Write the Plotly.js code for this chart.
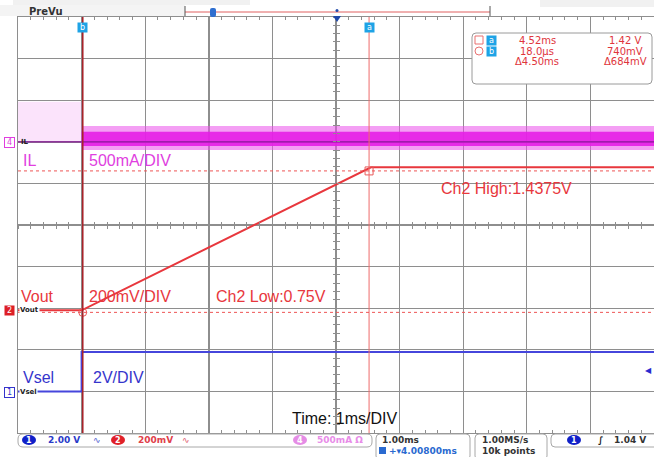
<!DOCTYPE html>
<html><head><meta charset="utf-8">
<script src="https://cdn.plot.ly/plotly-3.0.1.min.js"></script>
<style>html,body{margin:0;padding:0;background:#fff}#chart{width:654px;height:457px}</style>
</head><body><div id="chart"></div>
<script>
// ---- data (time in ms) ----
const voutTime  = [-1, 0.0, 4.55, 9];
const voutValue = [0.75, 0.75, 1.4375, 1.4375];          // V, 200mV/div
const vselTime  = [-1, 0, 0, 9];
const vselValue = [0, 0, 1.9, 1.9];                      // V, 2V/div
const ilPreTime  = [-1, 0];
const ilPreUpper = [0.48, 0.48];                         // A, 500mA/div
const ilPreLower = [0, 0];
const ilTime       = [0, 9];
const ilOuterUpper = [0.19, 0.19];
const ilOuterLower = [-0.10, -0.10];
const ilInnerUpper = [0.12, 0.12];
const ilInnerLower = [-0.05, -0.05];
const ilCoreTime = [-1, 9];
const ilCore     = [0, 0];
const cursorNames = ['a', 'b'];
const cursorTime  = [4.52, 0.018];
const cursorVolt  = [1.42, 0.74];
const triggerLevel = 1.04;

// ---- pixel helpers for decorations ----
const L = 18, T = 17, W = 636, H = 416;
const px = v => (v - L) / W;
const py = v => (T + H - v) / H;
function rr(x0, y0, x1, y1, r) {
  const X = px, Y = py;
  return `M${X(x0+r)},${Y(y0)} L${X(x1-r)},${Y(y0)} Q${X(x1)},${Y(y0)} ${X(x1)},${Y(y0+r)} ` +
         `L${X(x1)},${Y(y1-r)} Q${X(x1)},${Y(y1)} ${X(x1-r)},${Y(y1)} L${X(x0+r)},${Y(y1)} ` +
         `Q${X(x0)},${Y(y1)} ${X(x0)},${Y(y1-r)} L${X(x0)},${Y(y0+r)} Q${X(x0)},${Y(y0)} ${X(x0+r)},${Y(y0)} Z`;
}
const band = (t, up, lo) => ({ x: t.concat(t.slice().reverse()), y: up.concat(lo.slice().reverse()) });

const RED = '#e8373d', BLUE = '#3535cc', MAG = '#e03ee0', CYAN = '#1ea3e6';

const pre = band(ilPreTime, ilPreUpper, ilPreLower);
const outer = band(ilTime, ilOuterUpper, ilOuterLower);
const inner = band(ilTime, ilInnerUpper, ilInnerLower);

const traces = [
  { x: pre.x, y: pre.y, xaxis: 'x3', yaxis: 'y2', type: 'scatter', mode: 'lines', fill: 'toself',
    fillcolor: 'rgba(238,140,238,0.24)', line: { width: 0 }, hoverinfo: 'skip' },
  { x: outer.x, y: outer.y, xaxis: 'x3', yaxis: 'y2', type: 'scatter', mode: 'lines', fill: 'toself',
    fillcolor: 'rgba(235,80,235,0.55)', line: { width: 0 }, hoverinfo: 'skip' },
  { x: inner.x, y: inner.y, xaxis: 'x3', yaxis: 'y2', type: 'scatter', mode: 'lines', fill: 'toself',
    fillcolor: 'rgba(230,30,230,0.9)', line: { width: 0 }, hoverinfo: 'skip' },
  { x: ilCoreTime, y: ilCore, xaxis: 'x3', yaxis: 'y2', type: 'scatter', mode: 'lines',
    line: { color: '#8a1a9a', width: 1.2 }, hoverinfo: 'skip' },
  { x: vselTime, y: vselValue, xaxis: 'x2', yaxis: 'y3', type: 'scatter', mode: 'lines',
    line: { color: '#4646dc', width: 2 }, hoverinfo: 'skip' },
  { x: voutTime, y: voutValue, xaxis: 'x', yaxis: 'y', type: 'scatter', mode: 'lines',
    line: { color: RED, width: 2 }, hoverinfo: 'skip' },
  { x: cursorTime, y: cursorVolt, xaxis: 'x', yaxis: 'y', type: 'scatter', mode: 'markers',
    marker: { symbol: ['square-open', 'circle-open'], size: 8, color: '#e85a5a', line: { width: 1 } }, hoverinfo: 'skip' }
];

const GRID = '#8e8e8e';
const xbase = { range: [-1, 9], dtick: 1, tick0: 0, showticklabels: false, zeroline: false, fixedrange: true };
const layout = {
  width: 654, height: 457,
  margin: { l: L, r: 0, t: T, b: 24, pad: 0 },
  paper_bgcolor: '#ffffff', plot_bgcolor: '#ffffff',
  showlegend: false,
  xaxis: Object.assign({}, xbase, { showgrid: true, gridcolor: GRID, gridwidth: 1.4,
    showline: true, linecolor: GRID, linewidth: 1.4, mirror: 'allticks',
    ticks: 'inside', ticklen: 4, tickcolor: GRID, minor: { dtick: 0.2, ticks: 'inside', ticklen: 3, tickcolor: GRID } }),
  xaxis2: Object.assign({}, xbase, { overlaying: 'x', anchor: 'free', position: 0.5, showgrid: false, showline: false,
    ticks: 'outside', ticklen: 3, tickcolor: GRID, minor: { dtick: 0.2, ticks: 'outside', ticklen: 3, tickcolor: GRID } }),
  xaxis3: Object.assign({}, xbase, { overlaying: 'x', anchor: 'free', position: 0.5, showgrid: false, showline: false,
    ticks: 'inside', ticklen: 3, tickcolor: GRID, minor: { dtick: 0.2, ticks: 'inside', ticklen: 3, tickcolor: GRID } }),
  yaxis: { range: [0.16, 2.16], dtick: 0.2, tick0: 0.16, showgrid: true, gridcolor: GRID, gridwidth: 1.4,
    showline: true, linecolor: GRID, linewidth: 1.4, mirror: true, zeroline: false, showticklabels: false, ticks: '', fixedrange: true },
  yaxis2: { overlaying: 'y', range: [-3.5, 1.5], dtick: 0.5, tick0: 0, anchor: 'free', position: 0.5, showgrid: false,
    zeroline: false, showline: false, showticklabels: false, ticks: 'inside', ticklen: 3, tickcolor: GRID,
    minor: { dtick: 0.1, ticks: 'inside', ticklen: 3, tickcolor: GRID }, fixedrange: true },
  yaxis3: { overlaying: 'y', range: [-2, 18], dtick: 2, tick0: 0, anchor: 'free', position: 0.5, showgrid: false,
    zeroline: false, showline: false, showticklabels: false, ticks: 'outside', ticklen: 3, tickcolor: GRID,
    minor: { dtick: 0.4, ticks: 'outside', ticklen: 3, tickcolor: GRID }, fixedrange: true },
  shapes: [], annotations: []
};

const S = layout.shapes, A = layout.annotations;
const P = (x0, y0, x1, y1, o) => S.push(Object.assign({ type: 'rect', xref: 'paper', yref: 'paper',
  x0: px(x0), y0: py(y0), x1: px(x1), y1: py(y1) }, o));
const path = (d, o) => S.push(Object.assign({ type: 'path', xref: 'paper', yref: 'paper', path: d }, o));
const txt = (t, x, y, o) => A.push(Object.assign({ text: t, xref: 'paper', yref: 'paper', x: px(x), y: py(y),
  showarrow: false, xanchor: 'left', yanchor: 'middle', font: { family: 'Liberation Sans, Arial', size: 16, color: '#000' } }, o));
const tag = (t, x, y, o) => A.push(Object.assign({ text: t, xref: 'paper', yref: 'paper', x: px(x), y: py(y),
  showarrow: false, xanchor: 'center', yanchor: 'middle', borderpad: 0, width: 9, height: 9,
  font: { family: 'DejaVu Sans', size: 8, color: '#fff' } }, o));

// cursors from data
cursorTime.forEach((t, i) => S.push({ type: 'line', xref: 'x', yref: 'paper', x0: t, x1: t, y0: 0, y1: 1,
  line: { color: i === 1 ? '#a8232a' : '#ee6a6a', width: i === 1 ? 1.6 : 1 } }));
cursorVolt.forEach(v => S.push({ type: 'line', xref: 'paper', yref: 'y', x0: 0, x1: 1, y0: v, y1: v,
  line: { color: '#e55', width: 1, dash: 'dot' } }));
cursorTime.forEach((t, i) => A.push({ text: cursorNames[i], xref: 'x', yref: 'paper', x: t, y: py(27), showarrow: false,
  xanchor: 'center', yanchor: 'middle', bgcolor: CYAN, borderpad: 0,
  font: { family: 'DejaVu Sans', size: 8, color: '#fff' }, width: 9, height: 9 }));
// trigger level arrow at right edge
A.push({ text: '◀', xref: 'paper', yref: 'y3', x: 1, y: triggerLevel, xanchor: 'right', yanchor: 'middle',
  showarrow: false, font: { size: 8, color: '#2a2ad0' } });

// top bar
P(13, 0, 250, 5, { fillcolor: '#f1f1f1', line: { width: 0 } });
P(540, 0, 654, 7, { fillcolor: '#f1f1f1', line: { width: 0 } });
P(0, 5, 185, 16, { fillcolor: '#f4f4f4', line: { width: 0 } });
txt('<b>PreVu</b>', 27, 11, { font: { family: 'DejaVu Sans', size: 10, color: '#333' } });
S.push({ type: 'line', xref: 'paper', yref: 'paper', x0: px(185), x1: px(490), y0: py(12), y1: py(12), line: { color: '#e06060', width: 1 } });
S.push({ type: 'line', xref: 'paper', yref: 'paper', x0: px(185), x1: px(185), y0: py(6), y1: py(16), line: { color: '#555', width: 1 } });
S.push({ type: 'line', xref: 'paper', yref: 'paper', x0: px(490), x1: px(490), y0: py(6), y1: py(16), line: { color: '#555', width: 1 } });
path(rr(210, 8, 216, 17, 2), { fillcolor: '#2f6fd0', line: { width: 0 } });
path(`M${px(333)},${py(16)} L${px(341)},${py(16)} L${px(337)},${py(22)} Z`, { fillcolor: '#2048a8', line: { width: 0 } });
S.push({ type: 'circle', xref: 'paper', yref: 'paper', x0: px(335.5), x1: px(338.5), y0: py(9), y1: py(12), fillcolor: '#2048a8', line: { width: 0 } });

// channel markers on left
tag('4', 9, 142, { bordercolor: MAG, borderwidth: 1, bgcolor: '#fff', font: { family: 'DejaVu Sans', size: 8, color: MAG } });
tag('2', 9, 310, { bgcolor: '#dd1f26' });
tag('1', 9, 392, { bordercolor: BLUE, borderwidth: 1, bgcolor: '#fff', font: { family: 'DejaVu Sans', size: 8, color: BLUE } });
txt('<b>IL</b>', 19, 142, { font: { family: 'DejaVu Sans', size: 7, color: '#222' } });
txt('<b>Vout</b>', 19, 310, { font: { family: 'DejaVu Sans', size: 7, color: '#222' }, bgcolor: '#fff', borderpad: 0 });
txt('<b>Vsel</b>', 19, 392, { font: { family: 'DejaVu Sans', size: 7, color: '#222' }, bgcolor: '#fff', borderpad: 0 });

// big labels
txt('IL', 21, 160, { font: { family: 'Liberation Sans', size: 16, color: MAG } });
txt('500mA/DIV', 87, 160, { font: { family: 'Liberation Sans', size: 16, color: MAG } });
txt('Vout', 19, 296, { font: { family: 'Liberation Sans', size: 16, color: RED } });
txt('200mV/DIV', 87, 296, { font: { family: 'Liberation Sans', size: 16, color: RED } });
txt('Ch2 Low:0.75V', 214, 296, { font: { family: 'Liberation Sans', size: 16, color: RED } });
txt('Ch2 High:1.4375V', 439, 188, { font: { family: 'Liberation Sans', size: 16, color: RED } });
txt('Vsel', 21, 377, { font: { family: 'Liberation Sans', size: 16, color: BLUE } });
txt('2V/DIV', 91, 377, { font: { family: 'Liberation Sans', size: 16, color: BLUE } });
txt('Time: 1ms/DIV', 290, 418, { font: { family: 'Liberation Sans', size: 16, color: '#111' } });

// cursor readout box
path(rr(472, 33, 652, 84, 4), { fillcolor: '#fff', line: { color: '#9a9a9a', width: 1 } });
P(475, 36, 483, 44, { fillcolor: '#fff', line: { color: '#e87070', width: 1 } });
S.push({ type: 'circle', xref: 'paper', yref: 'paper', x0: px(475), x1: px(483), y0: py(47), y1: py(55), line: { color: '#e87070', width: 1 } });
['a', 'b'].forEach((n, i) => tag(n, 492, 40 + 11 * i, { bgcolor: CYAN }));
const RF = { family: 'DejaVu Sans', size: 10, color: '#e0353c' };
[['4.52ms', '1.42 V'], ['18.0µs', '740mV'], ['Δ4.50ms', 'Δ684mV']].forEach((r, i) => {
  txt(r[0], 537, 40 + 11 * i, { xanchor: 'center', font: RF });
  txt(r[1], 625, 40 + 11 * i, { xanchor: 'center', font: RF });
});

// bottom status bar
const BF = (c) => ({ family: 'DejaVu Sans', size: 9, color: c });
path(rr(18, 434, 372, 447, 5), { fillcolor: '#fff', line: { color: '#a8a8a8', width: 1 } });
path(rr(376, 434, 470, 460, 4), { fillcolor: '#fff', line: { color: '#a8a8a8', width: 1 } });
path(rr(475, 434, 547, 460, 4), { fillcolor: '#fff', line: { color: '#a8a8a8', width: 1 } });
path(rr(551, 434, 660, 447, 4), { fillcolor: '#fff', line: { color: '#a8a8a8', width: 1 } });
const badge = (n, x, y, fill, fc) => {
  S.push({ type: 'circle', xref: 'paper', yref: 'paper', x0: px(x - 7), x1: px(x + 7), y0: py(y - 5), y1: py(y + 5), fillcolor: fill, line: { width: 0 } });
  txt('<b>' + n + '</b>', x, y, { xanchor: 'center', font: { family: 'DejaVu Sans', size: 8, color: fc } });
};
badge('1', 29, 440, '#1020c8', '#fff');
txt('<b>2.00 V</b>', 64, 440, { xanchor: 'center', font: BF('#2a3ac8') });
txt('∿', 97, 440, { xanchor: 'center', font: BF('#5060d0') });
badge('2', 118, 440, '#e02028', '#fff');
txt('<b>200mV</b>', 155, 440, { xanchor: 'center', font: BF('#e0404a') });
txt('∿', 186, 440, { xanchor: 'center', font: BF('#e06070') });
badge('4', 300, 440, '#e58ce5', '#fff');
txt('<b>500mA Ω</b>', 340, 440, { xanchor: 'center', font: BF('#e88ce8') });
txt('<b>1.00ms</b>', 380, 440, { font: BF('#333') });
P(379, 447, 386, 454, { fillcolor: '#2a6ad0', line: { width: 0 } });
txt('<b>+▾4.00800ms</b>', 387, 451, { font: BF('#2a6ad0') });
txt('<b>1.00MS/s</b>', 480, 440, { font: BF('#333') });
txt('<b>10k points</b>', 480, 451, { font: BF('#333') });
badge('1', 574, 440, '#1020c8', '#fff');
txt('<b>∫</b>', 601, 440, { xanchor: 'center', font: BF('#222') });
txt('<b>1.04 V</b>', 630, 440, { xanchor: 'center', font: BF('#333') });

Plotly.newPlot('chart', traces, layout, { staticPlot: true, displayModeBar: false });
</script></body></html>
